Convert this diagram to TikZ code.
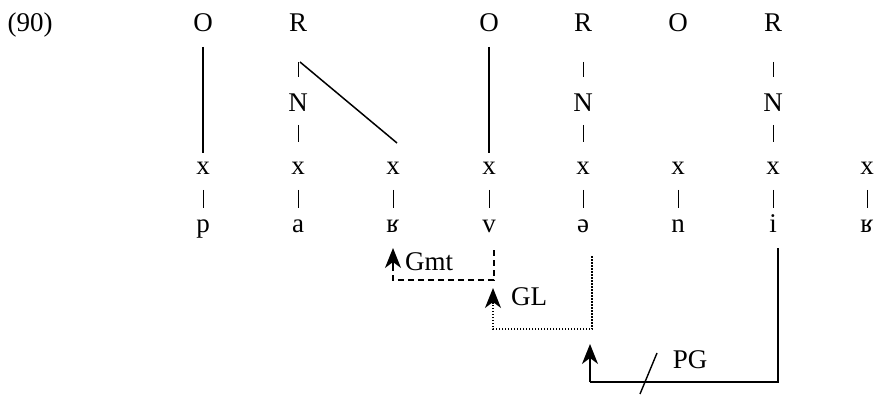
\documentclass[tikz,border=0pt]{standalone}
\usepackage{fontspec}
\setmainfont{Liberation Serif}
\usetikzlibrary{arrows.meta,calc}
\begin{document}
\begin{tikzpicture}[x=1pt,y=-1pt,
  lab/.style={inner sep=0pt,anchor=base,font=\fontsize{27}{32}\selectfont},
  tick/.style={line width=0.8pt},
  assoc/.style={line width=1.5pt},
  rule/.style={line width=1.4pt},
  tip/.style={-{Stealth[length=20pt,width=16pt,inset=6pt]}},
]
\useasboundingbox (0,0) rectangle (874,403);

% example number
\node[lab] (num) at (30,32) {(90)};

% column positions
\def\ca{203}\def\cb{298}\def\cc{393}\def\cd{489}
\def\ce{583}\def\cf{678}\def\cg{773}\def\ch{867}

% prosodic constituents
\node[lab] (o1) at (\ca,32) {O};
\node[lab] (r1) at (\cb,32) {R};
\node[lab] (o2) at (\cd,32) {O};
\node[lab] (r2) at (\ce,32) {R};
\node[lab] (o3) at (\cf,32) {O};
\node[lab] (r3) at (\cg,32) {R};

\node[lab] (n1) at (\cb,112) {N};
\node[lab] (n2) at (\ce,112) {N};
\node[lab] (n3) at (\cg,112) {N};

% skeletal slots
\foreach \i/\c in {1/\ca,2/\cb,3/\cc,4/\cd,5/\ce,6/\cf,7/\cg,8/\ch}
  \node[lab] (x\i) at (\c,175) {x};

% melody
\node[lab] (s1) at (\ca,232) {p};
\node[lab] (s2) at (\cb,232) {a};
\node[lab] (s3) at (\cc,232) {ʁ};
\node[lab] (s4) at (\cd,232) {v};
\node[lab] (s5) at (\ce,232) {ə};
\node[lab] (s6) at (\cf,232) {n};
\node[lab] (s7) at (\cg,232) {i};
\node[lab] (s8) at (\ch,232) {ʁ};

% short association ticks
\foreach \r/\n in {r1/n1,r2/n2,r3/n3}
  \draw[tick] ($(\r.base)+(0,30)$) -- ($(\n.base)+(0,-35)$);
\foreach \n/\x in {n1/x2,n2/x5,n3/x7}
  \draw[tick] ($(\n.base)+(0,13)$) -- ($(\x.base)+(0,-33)$);
\foreach \i in {1,...,8}
  \draw[tick] ($(x\i.base)+(0,15)$) -- ($(s\i.base)+(0,-24)$);

% long association lines
\draw[assoc] ($(o1.base)+(0,15)$) -- ($(x1.base)+(0,-22)$);
\draw[assoc] ($(o2.base)+(0,15)$) -- ($(x4.base)+(0,-22)$);
\draw[assoc] ($(r1.base)+(2,30)$) -- ($(x3.base)+(4,-32)$);

% processes
\coordinate (g1) at (494,250);
\coordinate (g2) at (494,280);
\coordinate (g3) at (393,280);
\coordinate (g4) at (393,248);
\draw[rule,dash pattern=on 6pt off 4pt] (g1) -- (g2) -- (g3) -- ($(g3)!0.4!(g4)$);
\draw[rule,tip] ($(g3)!0.4!(g4)$) -- (g4);
\node[lab] (gmt) at (429,270) {Gmt};

\coordinate (l1) at (592,256);
\coordinate (l2) at (592,329);
\coordinate (l3) at (493,329);
\coordinate (l4) at (493,288);
\draw[rule,dash pattern=on 1.5pt off 1.5pt] (l1) -- (l2) -- (l3) -- ($(l3)!0.6!(l4)$);
\draw[rule,tip] ($(l3)!0.6!(l4)$) -- (l4);
\node[lab] (gl) at (529,305) {GL};

\coordinate (p1) at (778,248);
\coordinate (p2) at (778,382);
\coordinate (p3) at (590,382);
\coordinate (p4) at (590,344);
\draw[rule] (p1) -- (p2) -- (p3);
\draw[rule,tip] (p3) -- (p4);
\coordinate (k1) at (657,353);
\coordinate (k2) at (640,394);
\draw[rule] (k1) -- (k2);
\node[lab] (pg) at (690,368) {PG};
\end{tikzpicture}
\end{document}
